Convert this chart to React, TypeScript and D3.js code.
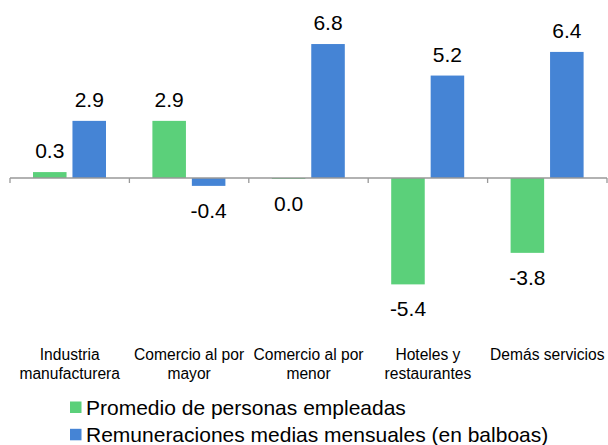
import React from "react";
import * as d3 from "d3";

const categories: string[][] = [
  ["Industria", "manufacturera"],
  ["Comercio al por", "mayor"],
  ["Comercio al por", "menor"],
  ["Hoteles y", "restaurantes"],
  ["Demás servicios"],
];
const seriesNames = [
  "Promedio de personas empleadas",
  "Remuneraciones medias mensuales (en balboas)",
];
const empleados = [0.3, 2.9, 0.0, -5.4, -3.8];
const remuneraciones = [2.9, -0.4, 6.8, 5.2, 6.4];
const colors = ["#5bd07a", "#4584d5"];

export default function App() {
  const W = 608;
  const H = 445;
  const x0 = d3.scaleBand<number>().domain(d3.range(categories.length)).range([10, 607]).paddingInner(0).paddingOuter(0);
  const bw = x0.bandwidth();
  const x1 = d3.scaleBand<number>().domain([0, 1]).range([23 / 119.4 * bw, 96 / 119.4 * bw]).paddingInner(0.15);
  const y = d3.scaleLinear().domain([-6, 7]).range([178 + 6 * 19.7, 178 - 7 * 19.7]);
  const data = [empleados, remuneraciones];
  const font = "Arial, 'Liberation Sans', sans-serif";
  const ticks = d3.range(categories.length + 1).map((i) => (i < categories.length ? x0(i)! : x0(categories.length - 1)! + bw));

  return (
    <svg width={W} height={H} style={{ position: "absolute", left: 0, top: 0, fontFamily: font }}>
      <rect width={W} height={H} fill="#fff" />
      {data.map((vals, s) =>
        vals.map((v, i) => {
          const bx = x0(i)! + x1(s)!;
          const top = Math.min(y(v), y(0));
          const h = Math.max(Math.abs(y(v) - y(0)), 1);
          const bottom = top + h;
          const cx = bx + x1.bandwidth() / 2;
          const ly = v > 0 ? top - 14 : bottom + 32;
          return (
            <g key={`${s}-${i}`}>
              <rect x={bx} y={top} width={x1.bandwidth()} height={h} fill={colors[s]} />
              <text x={cx} y={ly} textAnchor="middle" fontSize={21} fill="#000">
                {v.toFixed(1)}
              </text>
            </g>
          );
        })
      )}
      <line x1={10} x2={607} y1={y(0)} y2={y(0)} stroke="#999" strokeWidth={1.3} />
      {ticks.map((t, i) => (
        <line key={i} x1={t} x2={t} y1={y(0)} y2={y(0) + 5} stroke="#999" strokeWidth={1.3} />
      ))}
      {categories.map((lines, i) => (
        <text key={i} x={x0(i)! + bw / 2} textAnchor="middle" fontSize={15.6} fill="#000">
          {lines.map((l, j) => (
            <tspan key={j} x={x0(i)! + bw / 2} y={360 + j * 18.5}>
              {l}
            </tspan>
          ))}
        </text>
      ))}
      {seriesNames.map((n, s) => (
        <g key={n}>
          <rect x={70} y={401.5 + s * 27.3} width={11.5} height={11.5} fill={colors[s]} />
          <text x={86} y={414.5 + s * 27.3} fontSize={21} fill="#000">
            {n}
          </text>
        </g>
      ))}
    </svg>
  );
}
